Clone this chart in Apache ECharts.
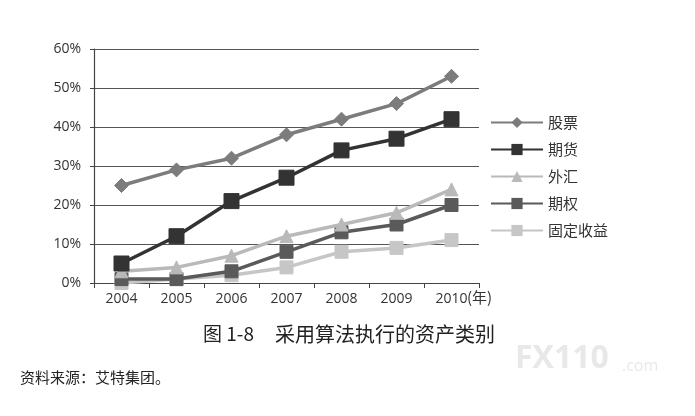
<!DOCTYPE html>
<html><head><meta charset="utf-8">
<script src="https://cdn.jsdelivr.net/npm/echarts@6/dist/echarts.min.js"></script>
<style>html,body{margin:0;padding:0;background:#fff;}#c{width:695px;height:416px;}</style>
</head><body><div id="c"></div>
<script>
const years = ['2004','2005','2006','2007','2008','2009','2010'];
const yTicks = [0,10,20,30,40,50,60];
const stocks = [25,29,32,38,42,46,53];
const futures = [5,12,21,27,34,37,42];
const fx = [3,4,7,12,15,18,24];
const options = [1,1,3,8,13,15,20];
const fixedIncome = [0,1,2,4,8,9,11];
const names = ['股票','期货','外汇','期权','固定收益'];

const chart = echarts.init(document.getElementById('c'));
function s(name, data, color, symbol, size, z){
  return {name, type:'line', data, symbol, symbolSize:size, z,
    lineStyle:{color, width:3.5}, itemStyle:{color, borderColor:color}};
}
chart.setOption({
  animation:false,
  backgroundColor:'#fff',
  textStyle:{fontFamily:'"Open Sans","Noto Sans CJK SC",sans-serif'},
  grid:{left:94, right:216, top:49, bottom:133},
  legend:{orient:'vertical', left:485, top:110, itemGap:12, itemWidth:52, itemHeight:14,
    data:names, textStyle:{fontSize:15, color:'#333', fontFamily:'"Noto Sans CJK SC",sans-serif'}},
  xAxis:{type:'category', data:years, boundaryGap:true,
    axisLine:{lineStyle:{color:'#444', width:1.2}},
    axisTick:{show:true, length:5, lineStyle:{color:'#444'}},
    axisLabel:{fontSize:14, color:'#333', margin:9}},
  yAxis:{type:'value', min:0, max:60, interval:10,
    axisLine:{show:true, lineStyle:{color:'#444', width:1.2}},
    axisTick:{show:true, length:4, lineStyle:{color:'#444'}},
    splitLine:{lineStyle:{color:'#555', width:1}},
    axisLabel:{fontSize:14, color:'#333', margin:13, formatter:v=>v+'%'}},
  graphic:[
    {type:'text', left:467, top:290, style:{text:'(年)', fontSize:15, fill:'#333', fontFamily:'"Noto Sans CJK SC",sans-serif'}},
    {type:'text', left:203, top:324, style:{text:'图 1-8', fontSize:19, fill:'#222', fontFamily:'"Noto Sans CJK SC",sans-serif'}},
    {type:'text', left:275, top:324, style:{text:'采用算法执行的资产类别', fontSize:20, fill:'#222', fontFamily:'"Noto Sans CJK SC",sans-serif'}},
    {type:'text', left:20, top:370, style:{text:'资料来源：艾特集团。', fontSize:15, fill:'#222', fontFamily:'"Noto Sans CJK SC",sans-serif'}},
    {type:'text', left:515, top:343, style:{text:'FX110', fontSize:32, fontWeight:'bold', fill:'#e8e8e8', fontFamily:'"Open Sans",sans-serif'}},
    {type:'text', left:622, top:358, style:{text:'.com', fontSize:16, fill:'#e8e8e8', fontFamily:'"Open Sans",sans-serif'}}
  ],
  series:[
    s('固定收益', fixedIncome, '#c6c6c6', 'rect', 13, 2),
    s('期权', options, '#5a5a5a', 'rect', 13, 3),
    s('外汇', fx, '#b9b9b9', 'triangle', 13, 4),
    s('期货', futures, '#333333', 'rect', 15, 5),
    s('股票', stocks, '#7c7c7c', 'diamond', 14, 6)
  ]
});
</script></body></html>
